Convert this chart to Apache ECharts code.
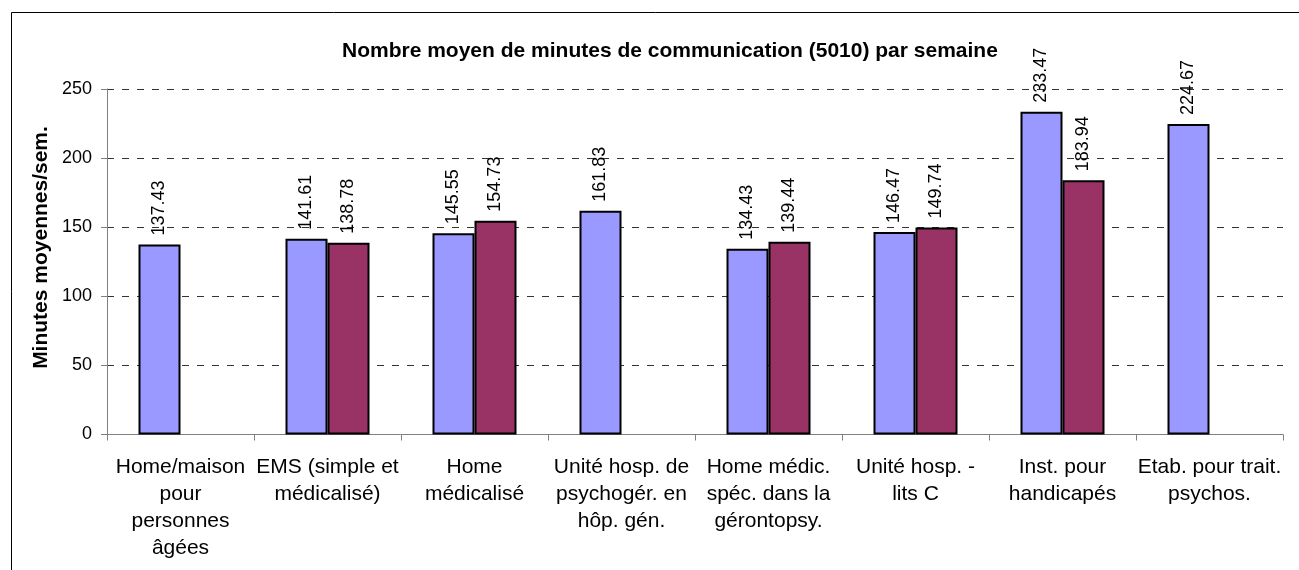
<!DOCTYPE html>
<html>
<head>
<meta charset="utf-8">
<script src="https://cdn.jsdelivr.net/npm/echarts@6/dist/echarts.min.js"></script>
<style>
  html, body { margin: 0; padding: 0; background: #fff; }
  #chart { width: 1299px; height: 570px; }
</style>
</head>
<body>
<div id="chart"></div>
<script>
// catégories (axe x)
const categories = [
    'Home/maison\npour\npersonnes\nâgées',
    'EMS (simple et\nmédicalisé)',
    'Home\nmédicalisé',
    'Unité hosp. de\npsychogér. en\nhôp. gén.',
    'Home médic.\nspéc. dans la\ngérontopsy.',
    'Unité hosp. -\nlits C',
    'Inst. pour\nhandicapés',
    'Etab. pour trait.\npsychos.',
];
const serie1 = [137.43, 141.61, 145.55, 161.83, 134.43, 146.47, 233.47, 224.67];
const serie2 = [null, 138.78, 154.73, null, 139.44, 149.74, 183.94, null];
const yTicks = [0, 50, 100, 150, 200, 250];

const font = 'Arial, "Liberation Sans", sans-serif';

const barLabel = {
    show: true,
    position: 'top',
    rotate: 90,
    align: 'left',
    verticalAlign: 'middle',
    distance: 9,
    color: '#000',
    fontSize: 18,
    fontFamily: font,
    formatter: (p) => p.value.toFixed(2),
};

const option = {
    animation: false,
    backgroundColor: '#fff',
    title: {
        text: 'Nombre moyen de minutes de communication (5010) par semaine',
        left: 342,
        top: 41,
        padding: 0,
        textStyle: {
            color: '#000',
            fontSize: 21,
            fontWeight: 'bold',
            fontFamily: font,
        },
    },
    grid: {
        left: 107,
        right: 16,
        top: 89,
        bottom: 570 - 434.5,
    },
    xAxis: {
        type: 'category',
        data: categories,
        axisLine: { lineStyle: { color: '#808080', width: 1 } },
        axisTick: { show: true, length: 6, lineStyle: { color: '#808080' } },
        axisLabel: {
            interval: 0,
            margin: 19,
            color: '#000',
            fontSize: 21,
            lineHeight: 27,
            fontFamily: font,
        },
    },
    yAxis: {
        type: 'value',
        min: yTicks[0],
        max: yTicks[yTicks.length - 1],
        interval: 50,
        axisLine: { show: true, lineStyle: { color: '#808080', width: 1 } },
        axisTick: { show: true, length: 6, lineStyle: { color: '#808080' } },
        axisLabel: {
            margin: 15,
            color: '#000',
            fontSize: 18,
            fontFamily: font,
        },
        splitLine: {
            show: true,
            lineStyle: { color: '#333', type: [7, 8], width: 1 },
        },
    },
    series: [
        {
            name: 'Série 1',
            type: 'bar',
            data: serie1,
            barWidth: 42,
            barGap: '0%',
            itemStyle: { color: '#9999FF', borderColor: '#000', borderWidth: 2 },
            label: barLabel,
        },
        {
            name: 'Série 2',
            type: 'bar',
            data: serie2,
            barWidth: 42,
            barGap: '0%',
            itemStyle: { color: '#993366', borderColor: '#000', borderWidth: 2 },
            label: barLabel,
        },
    ],
    graphic: [
        {
            type: 'rect',
            silent: true,
            shape: { x: 11.5, y: 12.5, width: 1400, height: 700 },
            style: { fill: 'none', stroke: '#000', lineWidth: 1 },
        },
        {
            // titre de l'axe y
            type: 'text',
            silent: true,
            x: 41.5,
            y: 247.5,
            rotation: Math.PI / 2,
            style: {
                text: 'Minutes moyennes/sem.',
                fill: '#000',
                font: 'bold 21px Arial, "Liberation Sans", sans-serif',
                align: 'center',
                verticalAlign: 'middle',
            },
        },
    ],
};

const chart = echarts.init(document.getElementById('chart'));
chart.setOption(option);
</script>
</body>
</html>
